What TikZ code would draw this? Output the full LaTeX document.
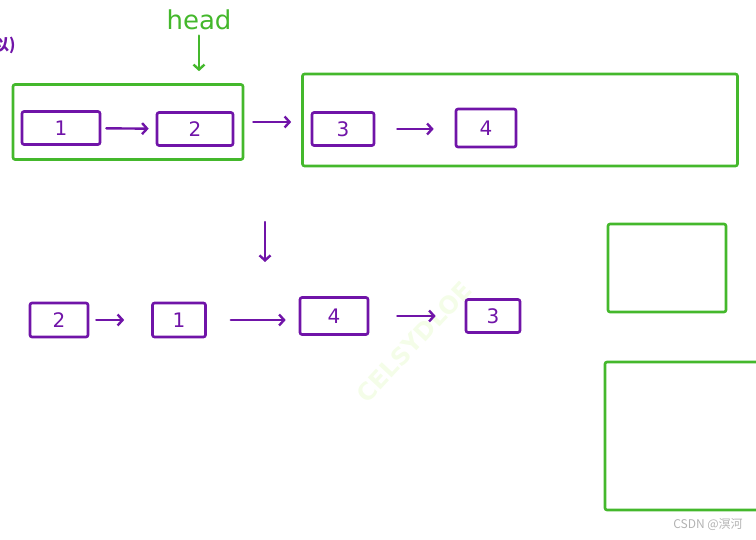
\documentclass[tikz,border=0pt]{standalone}
\usepackage{fontspec}
\setsansfont{DejaVu Sans}
\newfontfamily\cjk{Noto Sans CJK SC}
\usetikzlibrary{arrows.meta}
\definecolor{purp}{RGB}{112,20,168}
\definecolor{grn}{RGB}{68,184,44}
\definecolor{wmk}{RGB}{244,253,232}
\tikzset{
  pbox/.style={draw=purp, line width=2.6pt, rounded corners=2pt, minimum height=33pt, inner sep=0pt, font=\sffamily\fontsize{20}{20}\selectfont, text=purp},
  gbox/.style={draw=grn, line width=2.6pt, rounded corners=2pt, inner sep=0pt},
  parr/.style={draw=purp, line width=2.4pt, line cap=round, -{Straight Barb[length=5pt,width=11pt]}},
  garr/.style={draw=grn, line width=2.4pt, line cap=round, -{Straight Barb[length=5pt,width=11pt]}},
}
\begin{document}
\begin{tikzpicture}[x=1pt,y=-1pt]
\useasboundingbox (0,0) rectangle (756,540);
% watermark
\node[rotate=47, text=wmk, font=\sffamily\bfseries\fontsize{24}{24}\selectfont] (wm) at (414,342) {CELSYDLOE};
% label
\node[text=purp, font=\cjk\bfseries\fontsize{16}{16}\selectfont, anchor=west, inner sep=0pt] (lbl) at (-7,45) {以)};
% top green boxes
\node[gbox, minimum width=230pt, minimum height=75pt] (g1) at (128,122) {};
\node[gbox, minimum width=435pt, minimum height=92pt] (g2) at (520,120) {};
% top nodes
\node[pbox, minimum width=78pt] (a1) at (61,128) {1};
\node[pbox, minimum width=76pt] (a2) at (195,129) {2};
\node[pbox, minimum width=62pt] (a3) at (343,129) {3};
\node[pbox, minimum width=60pt, minimum height=38pt] (a4) at (486,128) {4};
\draw[parr, shorten <=5pt, shorten >=7pt] (a1) -- (a2);
\draw[parr, shorten <=9pt, shorten >=10pt] (g1.east) -- (g2.west |- g1.east);
\draw[parr, shorten <=22pt, shorten >=21pt] (a3) -- (a4.west |- a3);
% head
\node[text=grn, font=\sffamily\fontsize{26}{26}\selectfont] (head) at (199,20) {head};
\draw[garr, shorten <=2pt, shorten >=12pt] (head.south) -- (head.south |- g1.north);
% down arrow
\coordinate (d1) at (265,222);
\coordinate (d2) at (265,262);
\draw[parr] (d1) -- (d2);
% bottom row
\node[pbox, minimum width=58pt, minimum height=34pt] (b2) at (59,320) {2};
\node[pbox, minimum width=53pt, minimum height=34pt] (b1) at (179,320) {1};
\node[pbox, minimum width=68pt, minimum height=37pt] (b4) at (334,316) {4};
\node[pbox, minimum width=54pt, minimum height=33pt] (b3) at (493,316) {3};
\draw[parr, shorten <=7pt, shorten >=27pt] (b2) -- (b1);
\draw[parr, shorten <=24pt, shorten >=13pt] (b1.east) -- (b4.west |- b1.east);
\draw[parr, shorten <=28pt, shorten >=29pt] (b4.east) -- (b3.west |- b4.east);
% right green boxes
\node[gbox, minimum width=118pt, minimum height=88pt] (g3) at (667,268) {};
\node[gbox, minimum width=194pt, minimum height=148pt] (g4) at (702,436) {};
% footer
\node[text=gray!60, font=\cjk\fontsize{12}{12}\selectfont] (csdn) at (708,525) {CSDN @溟河};
\end{tikzpicture}
\end{document}
